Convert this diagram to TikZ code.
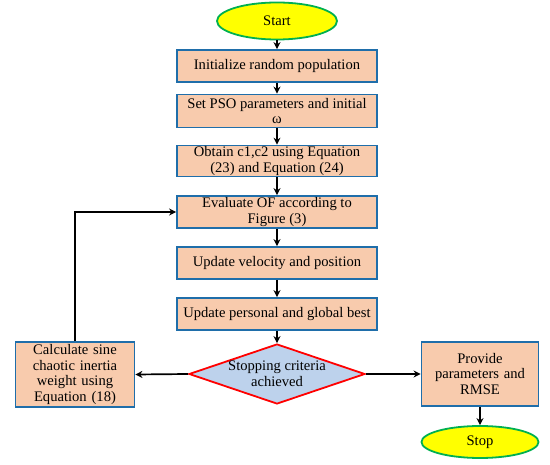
\documentclass[tikz,border=0pt]{standalone}
\usepackage{fontspec}
\setmainfont{Liberation Serif}
\usetikzlibrary{shapes.geometric,arrows.meta}
\definecolor{peach}{RGB}{248,203,173}
\definecolor{bordblue}{RGB}{31,110,170}
\definecolor{ellyellow}{RGB}{255,255,0}
\definecolor{ellgreen}{RGB}{0,176,80}
\definecolor{diablue}{RGB}{189,210,236}
\begin{document}
\begin{tikzpicture}[x=1pt,y=-1pt,
  every node/.style={font=\fontsize{14.6}{15.6}\selectfont},
  procbox/.style={draw=bordblue,line width=1.8pt,fill=peach,minimum width=200pt,align=center,inner sep=1pt},
  termnode/.style={ellipse,draw=ellgreen,line width=1.8pt,fill=ellyellow,inner sep=0pt},
  flow/.style={draw=black,line width=1.7pt,-{Stealth[length=7pt,width=7pt]}}]
\useasboundingbox (0,0) rectangle (550,465);
\node[termnode,minimum width=120pt,minimum height=37pt] (start) at (277,21) {Start};
\node[procbox,minimum height=32pt] (b1) at (277,66) {Initialize random population};
\node[procbox,minimum height=33pt] (b2) at (277,111) {Set PSO parameters and initial\\ω};
\node[procbox,minimum height=30pt] (b3) at (277,161) {Obtain c1,c2 using Equation\\(23) and Equation (24)};
\node[procbox,minimum height=32pt] (b4) at (277,212) {Evaluate OF according to\\Figure (3)};
\node[procbox,minimum height=32pt] (b5) at (277,263) {Update velocity and position};
\node[procbox,minimum height=32pt] (b6) at (277,314) {Update personal and global best};
\node[diamond,draw=red,line width=1.8pt,fill=diablue,minimum width=176pt,minimum height=60pt,inner sep=0pt] (dia) at (277,374) {};
\node[align=center] (diatext) at (277,374) {Stopping criteria\\achieved};
\node[procbox,minimum width=119pt,minimum height=65pt,text width=112pt] (left) at (75,374.5) {Calculate sine\\chaotic inertia\\weight using\\Equation (18)};
\node[procbox,minimum width=117pt,minimum height=64pt,text width=112pt] (right) at (480,374) {Provide\\parameters and\\RMSE};
\node[termnode,minimum width=117pt,minimum height=32pt] (stop) at (480,442) {Stop};
\draw[flow] (start) -- (b1);
\draw[flow] (b1) -- (b2);
\draw[flow] (b2) -- (b3);
\draw[flow] (b3) -- (b4);
\draw[flow] (b4) -- (b5);
\draw[flow] (b5) -- (b6);
\draw[flow] (b6) -- (dia);
\draw[flow] (dia.west) -- (left.east);
\draw[flow] (dia.east) -- (right.west);
\draw[flow] (right) -- (stop);
\draw[flow] (left.north) |- (b4.west);
\end{tikzpicture}
\end{document}
